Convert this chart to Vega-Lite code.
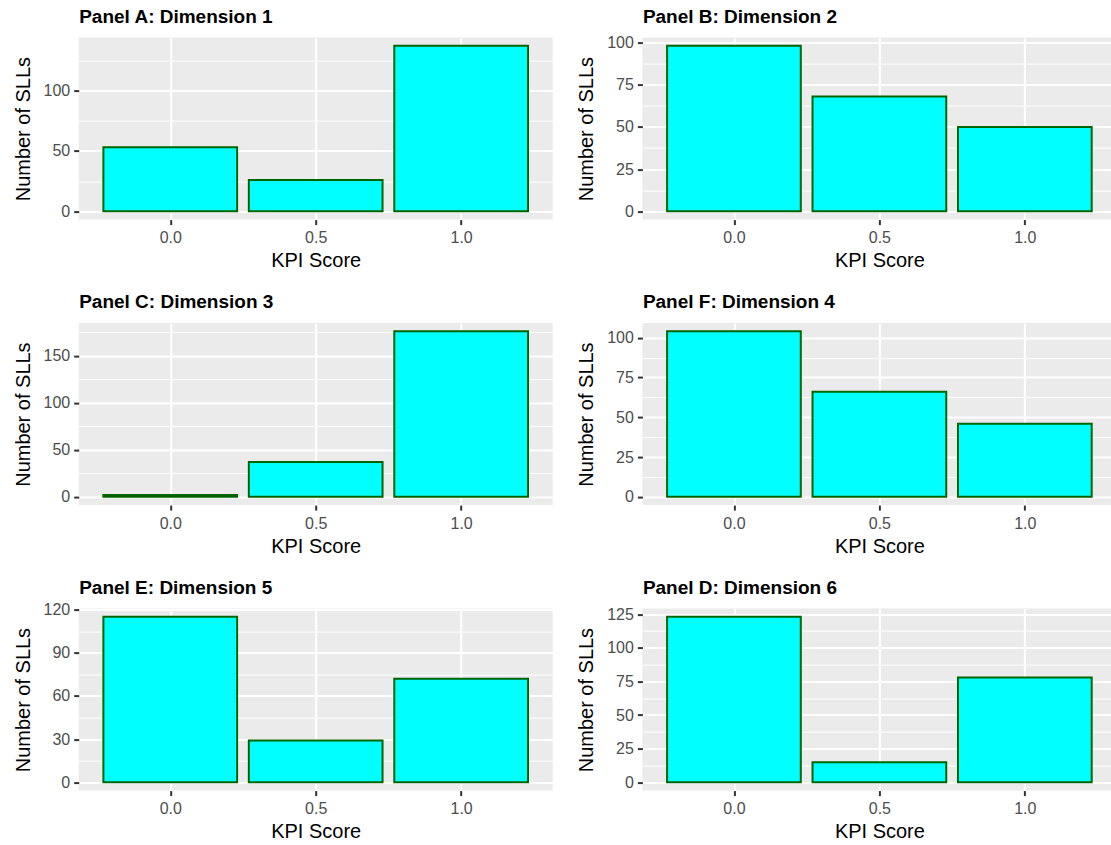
{
  "$schema": "https://vega.github.io/schema/vega-lite/v6.json",
  "padding": {"left": 12.7, "top": 6.6, "right": 0, "bottom": 0},
  "background": "#FFFFFF",
  "datasets": {
    "kpi": [
      {"panel": "A", "score": 0.0, "count": 53},
      {"panel": "A", "score": 0.5, "count": 26},
      {"panel": "A", "score": 1.0, "count": 137},
      {"panel": "B", "score": 0.0, "count": 98},
      {"panel": "B", "score": 0.5, "count": 68},
      {"panel": "B", "score": 1.0, "count": 50},
      {"panel": "C", "score": 0.0, "count": 2},
      {"panel": "C", "score": 0.5, "count": 37},
      {"panel": "C", "score": 1.0, "count": 176},
      {"panel": "F", "score": 0.0, "count": 104},
      {"panel": "F", "score": 0.5, "count": 66},
      {"panel": "F", "score": 1.0, "count": 46},
      {"panel": "E", "score": 0.0, "count": 115},
      {"panel": "E", "score": 0.5, "count": 29},
      {"panel": "E", "score": 1.0, "count": 72},
      {"panel": "D", "score": 0.0, "count": 123},
      {"panel": "D", "score": 0.5, "count": 15},
      {"panel": "D", "score": 1.0, "count": 78}
    ]
  },
  "columns": 2,
  "spacing": {"row": 20.5, "column": 23.7},
  "concat": [
    {
      "width": 474, "height": 182,
      "data": {"name": "kpi"},
      "transform": [{"filter": "datum.panel == 'A'"}],
      "resolve": {"axis": {"x": "independent", "y": "independent"}},
      "layer": [
        {
          "mark": {"type": "bar", "opacity": 0, "width": 133.7},
          "encoding": {
            "x": {"field": "score", "type": "quantitative", "scale": {"domain": [-0.2975, 1.2975], "nice": false, "zero": false},
                  "axis": {"orient": "top", "values": [0.25], "grid": false, "labels": false, "ticks": false, "domain": false, "title": "Panel A: Dimension 1", "titleAnchor": "start", "titleFontWeight": "bold", "titleFontSize": 19, "titleBaseline": "alphabetic", "titlePadding": 15.4, "minExtent": 0, "maxExtent": 0}},
            "y": {"field": "count", "type": "quantitative", "scale": {"domain": [-6.85, 143.85], "nice": false, "zero": false},
                  "axis": {"orient": "left", "values": [25, 75, 125], "grid": true, "gridWidth": 1, "labels": false, "ticks": false, "domain": false, "title": null}}
          }
        },
        {
          "mark": {"type": "bar", "fill": "#00FFFF", "stroke": "#006400", "strokeWidth": 2, "width": 133.7},
          "encoding": {
            "x": {"field": "score", "type": "quantitative", "scale": {"domain": [-0.2975, 1.2975], "nice": false, "zero": false},
                  "axis": {"orient": "bottom", "grid": true, "values": [0, 0.5, 1], "format": ".1f", "title": "KPI Score"}},
            "y": {"field": "count", "type": "quantitative", "scale": {"domain": [-6.85, 143.85], "nice": false, "zero": false},
                  "axis": {"orient": "left", "grid": true, "values": [0, 50, 100], "title": "Number of SLLs"}}
          }
        }
      ]
    },
    {
      "width": 474, "height": 182,
      "data": {"name": "kpi"},
      "transform": [{"filter": "datum.panel == 'B'"}],
      "resolve": {"axis": {"x": "independent", "y": "independent"}},
      "layer": [
        {
          "mark": {"type": "bar", "opacity": 0, "width": 133.7},
          "encoding": {
            "x": {"field": "score", "type": "quantitative", "scale": {"domain": [-0.2975, 1.2975], "nice": false, "zero": false},
                  "axis": {"orient": "top", "values": [0.25], "grid": false, "labels": false, "ticks": false, "domain": false, "title": "Panel B: Dimension 2", "titleAnchor": "start", "titleFontWeight": "bold", "titleFontSize": 19, "titleBaseline": "alphabetic", "titlePadding": 15.4, "minExtent": 0, "maxExtent": 0}},
            "y": {"field": "count", "type": "quantitative", "scale": {"domain": [-4.9, 102.9], "nice": false, "zero": false},
                  "axis": {"orient": "left", "values": [12.5, 37.5, 62.5, 87.5], "grid": true, "gridWidth": 1, "labels": false, "ticks": false, "domain": false, "title": null}}
          }
        },
        {
          "mark": {"type": "bar", "fill": "#00FFFF", "stroke": "#006400", "strokeWidth": 2, "width": 133.7},
          "encoding": {
            "x": {"field": "score", "type": "quantitative", "scale": {"domain": [-0.2975, 1.2975], "nice": false, "zero": false},
                  "axis": {"orient": "bottom", "grid": true, "values": [0, 0.5, 1], "format": ".1f", "title": "KPI Score"}},
            "y": {"field": "count", "type": "quantitative", "scale": {"domain": [-4.9, 102.9], "nice": false, "zero": false},
                  "axis": {"orient": "left", "grid": true, "values": [0, 25, 50, 75, 100], "title": "Number of SLLs"}}
          }
        }
      ]
    },
    {
      "width": 474, "height": 182,
      "data": {"name": "kpi"},
      "transform": [{"filter": "datum.panel == 'C'"}],
      "resolve": {"axis": {"x": "independent", "y": "independent"}},
      "layer": [
        {
          "mark": {"type": "bar", "opacity": 0, "width": 133.7},
          "encoding": {
            "x": {"field": "score", "type": "quantitative", "scale": {"domain": [-0.2975, 1.2975], "nice": false, "zero": false},
                  "axis": {"orient": "top", "values": [0.25], "grid": false, "labels": false, "ticks": false, "domain": false, "title": "Panel C: Dimension 3", "titleAnchor": "start", "titleFontWeight": "bold", "titleFontSize": 19, "titleBaseline": "alphabetic", "titlePadding": 15.4, "minExtent": 0, "maxExtent": 0}},
            "y": {"field": "count", "type": "quantitative", "scale": {"domain": [-8.8, 184.8], "nice": false, "zero": false},
                  "axis": {"orient": "left", "values": [25, 75, 125, 175], "grid": true, "gridWidth": 1, "labels": false, "ticks": false, "domain": false, "title": null}}
          }
        },
        {
          "mark": {"type": "bar", "fill": "#00FFFF", "stroke": "#006400", "strokeWidth": 2, "width": 133.7},
          "encoding": {
            "x": {"field": "score", "type": "quantitative", "scale": {"domain": [-0.2975, 1.2975], "nice": false, "zero": false},
                  "axis": {"orient": "bottom", "grid": true, "values": [0, 0.5, 1], "format": ".1f", "title": "KPI Score"}},
            "y": {"field": "count", "type": "quantitative", "scale": {"domain": [-8.8, 184.8], "nice": false, "zero": false},
                  "axis": {"orient": "left", "grid": true, "values": [0, 50, 100, 150], "title": "Number of SLLs"}}
          }
        }
      ]
    },
    {
      "width": 474, "height": 182,
      "data": {"name": "kpi"},
      "transform": [{"filter": "datum.panel == 'F'"}],
      "resolve": {"axis": {"x": "independent", "y": "independent"}},
      "layer": [
        {
          "mark": {"type": "bar", "opacity": 0, "width": 133.7},
          "encoding": {
            "x": {"field": "score", "type": "quantitative", "scale": {"domain": [-0.2975, 1.2975], "nice": false, "zero": false},
                  "axis": {"orient": "top", "values": [0.25], "grid": false, "labels": false, "ticks": false, "domain": false, "title": "Panel F: Dimension 4", "titleAnchor": "start", "titleFontWeight": "bold", "titleFontSize": 19, "titleBaseline": "alphabetic", "titlePadding": 15.4, "minExtent": 0, "maxExtent": 0}},
            "y": {"field": "count", "type": "quantitative", "scale": {"domain": [-5.2, 109.2], "nice": false, "zero": false},
                  "axis": {"orient": "left", "values": [12.5, 37.5, 62.5, 87.5], "grid": true, "gridWidth": 1, "labels": false, "ticks": false, "domain": false, "title": null}}
          }
        },
        {
          "mark": {"type": "bar", "fill": "#00FFFF", "stroke": "#006400", "strokeWidth": 2, "width": 133.7},
          "encoding": {
            "x": {"field": "score", "type": "quantitative", "scale": {"domain": [-0.2975, 1.2975], "nice": false, "zero": false},
                  "axis": {"orient": "bottom", "grid": true, "values": [0, 0.5, 1], "format": ".1f", "title": "KPI Score"}},
            "y": {"field": "count", "type": "quantitative", "scale": {"domain": [-5.2, 109.2], "nice": false, "zero": false},
                  "axis": {"orient": "left", "grid": true, "values": [0, 25, 50, 75, 100], "title": "Number of SLLs"}}
          }
        }
      ]
    },
    {
      "width": 474, "height": 182,
      "data": {"name": "kpi"},
      "transform": [{"filter": "datum.panel == 'E'"}],
      "resolve": {"axis": {"x": "independent", "y": "independent"}},
      "layer": [
        {
          "mark": {"type": "bar", "opacity": 0, "width": 133.7},
          "encoding": {
            "x": {"field": "score", "type": "quantitative", "scale": {"domain": [-0.2975, 1.2975], "nice": false, "zero": false},
                  "axis": {"orient": "top", "values": [0.25], "grid": false, "labels": false, "ticks": false, "domain": false, "title": "Panel E: Dimension 5", "titleAnchor": "start", "titleFontWeight": "bold", "titleFontSize": 19, "titleBaseline": "alphabetic", "titlePadding": 15.4, "minExtent": 0, "maxExtent": 0}},
            "y": {"field": "count", "type": "quantitative", "scale": {"domain": [-5.75, 120.75], "nice": false, "zero": false},
                  "axis": {"orient": "left", "values": [15, 45, 75, 105], "grid": true, "gridWidth": 1, "labels": false, "ticks": false, "domain": false, "title": null}}
          }
        },
        {
          "mark": {"type": "bar", "fill": "#00FFFF", "stroke": "#006400", "strokeWidth": 2, "width": 133.7},
          "encoding": {
            "x": {"field": "score", "type": "quantitative", "scale": {"domain": [-0.2975, 1.2975], "nice": false, "zero": false},
                  "axis": {"orient": "bottom", "grid": true, "values": [0, 0.5, 1], "format": ".1f", "title": "KPI Score"}},
            "y": {"field": "count", "type": "quantitative", "scale": {"domain": [-5.75, 120.75], "nice": false, "zero": false},
                  "axis": {"orient": "left", "grid": true, "values": [0, 30, 60, 90, 120], "title": "Number of SLLs"}}
          }
        }
      ]
    },
    {
      "width": 474, "height": 182,
      "data": {"name": "kpi"},
      "transform": [{"filter": "datum.panel == 'D'"}],
      "resolve": {"axis": {"x": "independent", "y": "independent"}},
      "layer": [
        {
          "mark": {"type": "bar", "opacity": 0, "width": 133.7},
          "encoding": {
            "x": {"field": "score", "type": "quantitative", "scale": {"domain": [-0.2975, 1.2975], "nice": false, "zero": false},
                  "axis": {"orient": "top", "values": [0.25], "grid": false, "labels": false, "ticks": false, "domain": false, "title": "Panel D: Dimension 6", "titleAnchor": "start", "titleFontWeight": "bold", "titleFontSize": 19, "titleBaseline": "alphabetic", "titlePadding": 15.4, "minExtent": 0, "maxExtent": 0}},
            "y": {"field": "count", "type": "quantitative", "scale": {"domain": [-6.15, 129.15], "nice": false, "zero": false},
                  "axis": {"orient": "left", "values": [12.5, 37.5, 62.5, 87.5, 112.5], "grid": true, "gridWidth": 1, "labels": false, "ticks": false, "domain": false, "title": null}}
          }
        },
        {
          "mark": {"type": "bar", "fill": "#00FFFF", "stroke": "#006400", "strokeWidth": 2, "width": 133.7},
          "encoding": {
            "x": {"field": "score", "type": "quantitative", "scale": {"domain": [-0.2975, 1.2975], "nice": false, "zero": false},
                  "axis": {"orient": "bottom", "grid": true, "values": [0, 0.5, 1], "format": ".1f", "title": "KPI Score"}},
            "y": {"field": "count", "type": "quantitative", "scale": {"domain": [-6.15, 129.15], "nice": false, "zero": false},
                  "axis": {"orient": "left", "grid": true, "values": [0, 25, 50, 75, 100, 125], "title": "Number of SLLs"}}
          }
        }
      ]
    }
  ],
  "config": {
    "font": "Liberation Sans",
    "view": {"fill": "#EBEBEB", "stroke": null},
    "axis": {
      "domain": false,
      "grid": true,
      "gridColor": "#FFFFFF",
      "gridWidth": 2,
      "gridOpacity": 1,
      "tickColor": "#333333",
      "tickWidth": 2,
      "tickSize": 5,
      "labelColor": "#4D4D4D",
      "labelFont": "Liberation Sans",
      "labelFontSize": 16,
      "titleFont": "Liberation Sans",
      "titleFontSize": 20,
      "titleFontWeight": "normal",
      "titleColor": "#000000"
    },
    "axisBottom": {
      "labelBaseline": "alphabetic",
      "labelPadding": 18.3,
      "minExtent": 25,
      "maxExtent": 25,
      "titlePadding": 22.3,
      "titleBaseline": "alphabetic"
    },
    "axisLeft": {
      "labelPadding": 4,
      "minExtent": 36,
      "maxExtent": 36,
      "titlePadding": 13.5,
      "titleBaseline": "alphabetic"
    }
  }
}
